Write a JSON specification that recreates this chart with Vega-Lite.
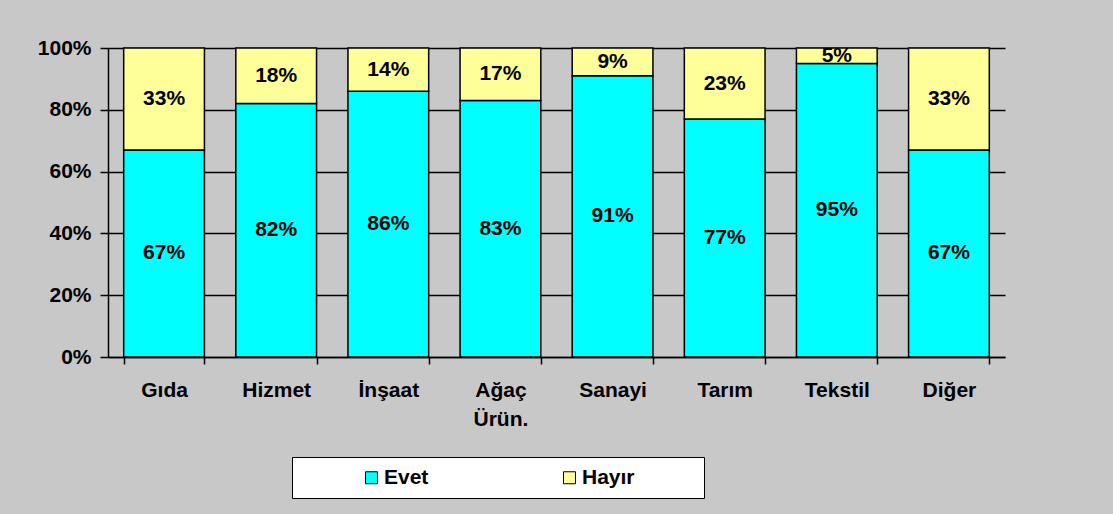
{
  "$schema": "https://vega.github.io/schema/vega-lite/v6.json",
  "width": 897,
  "height": 309,
  "autosize": {"type": "none"},
  "padding": {"left": 108, "top": 48, "right": 108, "bottom": 157},
  "background": "#c8c8c8",
  "config": {"view": {"stroke": null}, "font": "Liberation Sans"},
  "data": {
    "values": [
      {"cat": "Gıda", "ans": "Evet", "pct": 0.67},
      {"cat": "Gıda", "ans": "Hayır", "pct": 0.33},
      {"cat": "Hizmet", "ans": "Evet", "pct": 0.82},
      {"cat": "Hizmet", "ans": "Hayır", "pct": 0.18},
      {"cat": "İnşaat", "ans": "Evet", "pct": 0.86},
      {"cat": "İnşaat", "ans": "Hayır", "pct": 0.14},
      {"cat": "Ağaç Ürün.", "ans": "Evet", "pct": 0.83},
      {"cat": "Ağaç Ürün.", "ans": "Hayır", "pct": 0.17},
      {"cat": "Sanayi", "ans": "Evet", "pct": 0.91},
      {"cat": "Sanayi", "ans": "Hayır", "pct": 0.09},
      {"cat": "Tarım", "ans": "Evet", "pct": 0.77},
      {"cat": "Tarım", "ans": "Hayır", "pct": 0.23},
      {"cat": "Tekstil", "ans": "Evet", "pct": 0.95},
      {"cat": "Tekstil", "ans": "Hayır", "pct": 0.05},
      {"cat": "Diğer", "ans": "Evet", "pct": 0.67},
      {"cat": "Diğer", "ans": "Hayır", "pct": 0.33}
    ]
  },
  "encoding": {
    "x": {
      "field": "cat",
      "type": "nominal",
      "sort": ["Gıda", "Hizmet", "İnşaat", "Ağaç Ürün.", "Sanayi", "Tarım", "Tekstil", "Diğer"],
      "scale": {"paddingInner": 0.28, "paddingOuter": 0.14},
      "axis": {
        "title": null,
        "labelAngle": 0,
        "tickBand": "extent",
        "grid": false,
        "domainColor": "black",
        "domainWidth": 1.5,
        "tickColor": "black",
        "tickWidth": 1.5,
        "tickSize": 7,
        "labelPadding": 15,
        "labelFontSize": 21,
        "labelFontWeight": "bold",
        "labelColor": "black",
        "labelLineHeight": 29,
        "labelBaseline": "top",
        "labelExpr": "datum.value == 'Ağaç Ürün.' ? ['Ağaç', 'Ürün.'] : datum.value"
      }
    }
  },
  "layer": [
    {
      "mark": {"type": "bar", "stroke": "black", "strokeWidth": 1.5},
      "encoding": {
        "y": {
          "field": "pct",
          "type": "quantitative",
          "stack": "zero",
          "scale": {"domain": [0, 1], "nice": false},
          "axis": {
            "title": null,
            "values": [0, 0.2, 0.4, 0.6, 0.8, 1],
            "format": ".0%",
            "grid": true,
            "gridColor": "black",
            "gridWidth": 1.5,
            "domainColor": "black",
            "domainWidth": 1.5,
            "tickColor": "black",
            "tickWidth": 1.5,
            "tickSize": 8,
            "labelPadding": 9,
            "labelFontSize": 21,
            "labelFontWeight": "bold",
            "labelColor": "black"
          }
        },
        "order": {"field": "ans", "sort": "ascending"},
        "color": {
          "field": "ans",
          "type": "nominal",
          "scale": {"domain": ["Evet", "Hayır"], "range": ["#00FFFF", "#FFFF99"]},
          "legend": {
            "orient": "none",
            "legendX": 184,
            "legendY": 409,
            "direction": "horizontal",
            "title": "\u00a0",
            "titleOrient": "right",
            "titlePadding": 59,
            "titleFontSize": 18,
            "strokeColor": "black",
            "fillColor": "white",
            "padding": 10,
            "symbolType": "square",
            "symbolSize": 144,
            "symbolStrokeColor": "black",
            "symbolStrokeWidth": 1,
            "symbolOpacity": 1,
            "symbolOffset": 59,
            "labelOffset": 2,
            "columnPadding": 71,
            "labelFontSize": 21,
            "labelFontWeight": "bold",
            "labelColor": "black"
          }
        }
      }
    },
    {
      "transform": [
        {"stack": "pct", "groupby": ["cat"], "sort": [{"field": "ans"}], "as": ["lo", "hi"]},
        {"fold": ["lo", "hi"], "as": ["k", "pos"]},
        {"aggregate": [{"op": "mean", "field": "pos", "as": "mid"}], "groupby": ["cat", "ans", "pct"]}
      ],
      "mark": {"type": "text", "fontSize": 21, "fontWeight": "bold", "color": "black", "baseline": "middle", "clip": true},
      "encoding": {
        "y": {"field": "mid", "type": "quantitative"},
        "text": {"field": "pct", "type": "quantitative", "format": ".0%"}
      }
    }
  ]
}
